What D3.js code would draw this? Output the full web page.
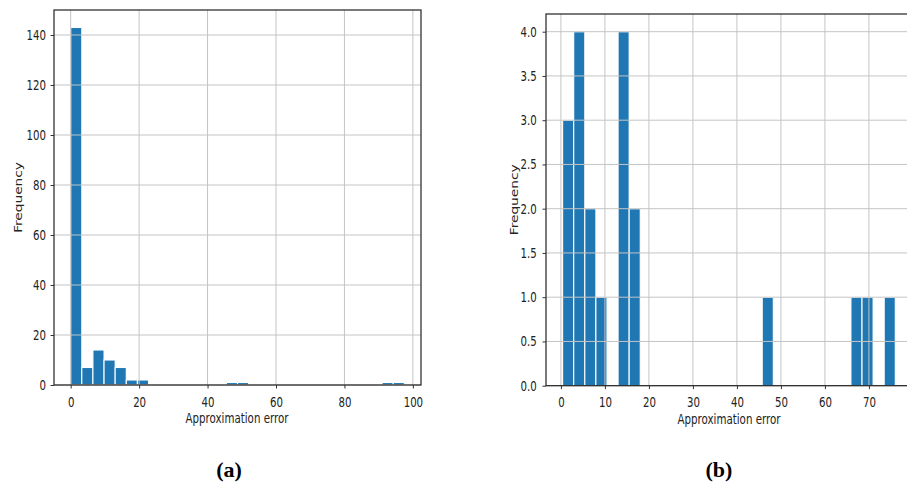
<!DOCTYPE html>
<html>
<head>
<meta charset="utf-8">
<script src="https://cdn.jsdelivr.net/npm/d3@7"></script>
<style>
  body { margin: 0; background: #fff; }
  svg { display: block; }
</style>
</head>
<body>
<div id="myChart"></div>
<script>
// panel (a): histogram bins (lower edge, upper edge, count)
const binLoA = [0, 3.25, 6.5, 9.75, 13, 16.25, 19.5, 45.5, 48.75, 91, 94.25];
const binHiA = [3.25, 6.5, 9.75, 13, 16.25, 19.5, 22.75, 48.75, 52, 94.25, 97.5];
const countA = [143, 7, 14, 10, 7, 2, 2, 1, 1, 1, 1];
const xTicksA = [0, 20, 40, 60, 80, 100];
const yTicksA = [0, 20, 40, 60, 80, 100, 120, 140];

// panel (b)
const binLoB = [0.39, 2.91, 5.43, 7.95, 12.99, 15.51, 45.75, 65.91, 68.43, 73.47];
const binHiB = [2.91, 5.43, 7.95, 10.47, 15.51, 18.03, 48.27, 68.43, 70.95, 75.99];
const countB = [3, 4, 2, 1, 4, 2, 1, 1, 1, 1];
const xTicksB = [0, 10, 20, 30, 40, 50, 60, 70];
const yTicksB = [0, 0.5, 1, 1.5, 2, 2.5, 3, 3.5, 4];

const xLabel = "Approximation error";
const yLabel = "Frequency";
const captions = ["(a)", "(b)"];

let svgW = 907;
let svgH = 486;
const squash = 0.75; // the picture is narrower than it is tall

let svg = d3.select("#myChart").append("svg")
  .attr("width", svgW)
  .attr("height", svgH);

function drawHist(cfg) {
  const x = d3.scaleLinear().domain(cfg.xDomain).range([cfg.left, cfg.right]);
  const y = d3.scaleLinear().domain(cfg.yDomain).range([cfg.bottom, cfg.top]);

  const g = svg.append("g");
  const bins = cfg.lo.map((d, i) => ({ lo: d, hi: cfg.hi[i], n: cfg.n[i] }));

  g.selectAll("rect.bar")
    .data(bins)
    .enter()
    .append("rect")
    .attr("class", "bar")
    .attr("fill", "#1f77b4")
    .attr("stroke", "#fff")
    .attr("stroke-width", 1.1)
    .attr("x", d => x(d.lo))
    .attr("width", d => x(d.hi) - x(d.lo))
    .attr("y", d => y(d.n))
    .attr("height", d => y(0) - y(d.n));

  // grid sits on top of the bars
  g.selectAll("line.vgrid")
    .data(cfg.xTicks)
    .enter()
    .append("line")
    .attr("stroke", "#c4c4c4")
    .attr("stroke-width", 1)
    .attr("x1", d => x(d)).attr("x2", d => x(d))
    .attr("y1", cfg.top).attr("y2", cfg.bottom);

  g.selectAll("line.hgrid")
    .data(cfg.yTicks)
    .enter()
    .append("line")
    .attr("stroke", "#c4c4c4")
    .attr("stroke-width", 1)
    .attr("x1", cfg.left).attr("x2", cfg.right)
    .attr("y1", d => y(d)).attr("y2", d => y(d));

  // frame
  g.append("rect")
    .attr("x", cfg.left).attr("y", cfg.top)
    .attr("width", cfg.right - cfg.left)
    .attr("height", cfg.bottom - cfg.top)
    .attr("fill", "none")
    .attr("stroke", "#222")
    .attr("stroke-width", 1.2);

  const xAxis = g.append("g")
    .attr("transform", `translate(0,${cfg.bottom})`)
    .call(d3.axisBottom(x).tickValues(cfg.xTicks).tickSize(3.5).tickPadding(8.5));
  const yAxis = g.append("g")
    .attr("transform", `translate(${cfg.left},0)`)
    .call(d3.axisLeft(y).tickValues(cfg.yTicks).tickFormat(cfg.yFormat).tickSize(3.5));

  [xAxis, yAxis].forEach(a => {
    a.select(".domain").remove();
    a.selectAll(".tick line").attr("stroke", "#333").attr("stroke-width", 1);
    a.selectAll("text")
      .attr("fill", "#222")
      .style("font-family", "DejaVu Sans")
      .style("font-size", "13.6px");
  });
  xAxis.selectAll("text").attr("transform", `scale(${squash},1)`);
  yAxis.selectAll("text")
    .attr("x", -cfg.yPad / squash)
    .attr("transform", `scale(${squash},1)`);

  const cx = (x(cfg.xDomain[0]) + x(cfg.xDomain[1])) / 2;
  g.append("text")
    .attr("transform", `translate(${cfg.xLabelX},${cfg.bottom + 38}) scale(${squash},1)`)
    .attr("text-anchor", "middle")
    .style("font-family", "DejaVu Sans")
    .style("font-size", "13.7px")
    .attr("fill", "#222")
    .text(xLabel);

  g.append("text")
    .attr("transform", `translate(${cfg.yLabelX},${(cfg.top + cfg.bottom) / 2}) rotate(-90) scale(1,${squash})`)
    .attr("text-anchor", "middle")
    .attr("dy", "0.35em")
    .style("font-family", "DejaVu Sans")
    .style("font-size", "13.7px")
    .attr("fill", "#222")
    .text(yLabel);

  svg.append("text")
    .attr("x", cfg.capX)
    .attr("y", 477)
    .attr("text-anchor", "middle")
    .style("font-family", "Liberation Serif")
    .style("font-weight", "bold")
    .style("font-size", "22px")
    .attr("fill", "#000")
    .text(cfg.caption);
}

drawHist({
  lo: binLoA, hi: binHiA, n: countA,
  xDomain: [-4.875, 102.375], yDomain: [0, 150],
  left: 54, right: 421, top: 10, bottom: 385,
  xTicks: xTicksA, yTicks: yTicksA, yFormat: d3.format("d"),
  yPad: 8, yLabelX: 18, xLabelX: 237, capX: 229, caption: captions[0]
});

drawHist({
  lo: binLoB, hi: binHiB, n: countB,
  xDomain: [-3.39, 79.79], yDomain: [0, 4.2],
  left: 546, right: 912, top: 14, bottom: 385.7,
  xTicks: xTicksB, yTicks: yTicksB, yFormat: d3.format(".1f"),
  yPad: 9.3, yLabelX: 514, xLabelX: 729, capX: 719, caption: captions[1]
});
</script>
</body>
</html>
